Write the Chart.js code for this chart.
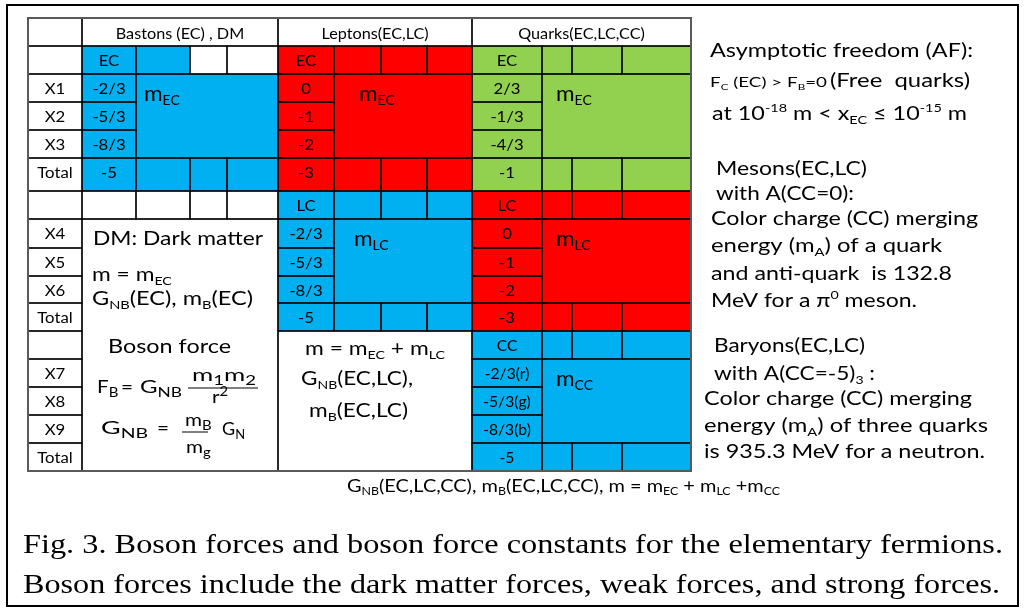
<!DOCTYPE html>
<html>
<head>
<meta charset="utf-8">
<script src="https://cdn.jsdelivr.net/npm/chart.js@4.4.0/dist/chart.umd.min.js"></script>
<style>
  html, body { margin: 0; padding: 0; background: #fff; }
  #wrap { width: 1025px; height: 611px; }
</style>
</head>
<body>
<div id="wrap"><canvas id="fig" width="1025" height="611"></canvas></div>
<script>
// table content
const sectionNames = ["Bastons (EC) , DM", "Leptons(EC,LC)", "Quarks(EC,LC,CC)"];
const rowLabels = ["", "", "X1", "X2", "X3", "Total", "", "X4", "X5", "X6", "Total", "", "X7", "X8", "X9", "Total"];
const bastonEC = ["-2/3", "-5/3", "-8/3", "-5"];
const leptonEC = ["0", "-1", "-2", "-3"];
const quarkEC = ["2/3", "-1/3", "-4/3", "-1"];
const leptonLC = ["-2/3", "-5/3", "-8/3", "-5"];
const quarkLC = ["0", "-1", "-2", "-3"];
const quarkCC = ["-2/3(r)", "-5/3(g)", "-8/3(b)", "-5"];

// notes ( _{..} = subscript, ^{..} = superscript )
const darkMatterNotes = ["DM: Dark matter", "m = m_{EC}", "G_{NB}(EC), m_{B}(EC)", "Boson force"];
const forceLaw = ["F_{B}", "=", "G_{NB}", "m_{1}m_{2}", "r^{2}"];
const constLaw = ["G_{NB}", "=", "m_{B}", "m_{g}", "G_{N}"];
const leptonNotes = ["m = m_{EC} + m_{LC}", "G_{NB}(EC,LC),", "m_{B}(EC,LC)"];
const sideNotes = [
  "Asymptotic freedom (AF):", "F_{C} (EC) > F_{B}=0", "(Free  quarks)", "at 10^{-18} m < x_{EC} ≤ 10^{-15} m",
  "Mesons(EC,LC)", "with A(CC=0):", "Color charge (CC) merging", "energy (m_{A}) of a quark",
  "and anti-quark  is 132.8", "MeV for a π^{0} meson.",
  "Baryons(EC,LC)", "with A(CC=-5)_{3} :", "Color charge (CC) merging", "energy (m_{A}) of three quarks",
  "is 935.3 MeV for a neutron."
];
const quarkNote = "G_{NB}(EC,LC,CC), m_{B}(EC,LC,CC), m = m_{EC} + m_{LC} +m_{CC}";
const caption = [
  "Fig. 3. Boson forces and boson force constants for the elementary fermions.",
  "Boson forces include the dark matter forces, weak forces, and strong forces."
];

// layout
const SANS = "Lato, 'Open Sans', sans-serif";
const SERIF = "'Liberation Serif', 'Times New Roman', serif";
const BLUE = "#00B0F0", RED = "#FF0000", GREEN = "#92D050";
const colEdges = [28, 82, 136, 190, 227, 278, 334, 381, 427, 472, 542, 572, 622, 691];
const rowEdges = [18, 46, 74, 102, 130, 158, 191, 219, 248, 276, 303, 331, 359, 387, 415, 443, 471];
const sectionCols = [[1, 5], [5, 9], [9, 13]];

const blocks = [
  { sec: 0, row: 1, head: "EC", vals: bastonEC, mass: "m_{EC}", fill: BLUE, headFill: [1, 1, 0, 0], dx: 8 },
  { sec: 1, row: 1, head: "EC", vals: leptonEC, mass: "m_{EC}", fill: RED, dx: 25 },
  { sec: 2, row: 1, head: "EC", vals: quarkEC, mass: "m_{EC}", fill: GREEN, dx: 14 },
  { sec: 1, row: 6, head: "LC", vals: leptonLC, mass: "m_{LC}", fill: BLUE, dx: 20 },
  { sec: 2, row: 6, head: "LC", vals: quarkLC, mass: "m_{LC}", fill: RED, dx: 14 },
  { sec: 2, row: 11, head: "CC", vals: quarkCC, mass: "m_{CC}", fill: BLUE, dx: 14, size: 14.5 }
];

const leftPos = [[93, 245, 170], [92, 281, 0], [92, 305, 161], [108, 353, 123]];
// [x, baseline, width]
const forcePos = [[97, 393, 0], [121, 393, 0], [140, 393, 42], [192, 381, 64], [212, 403, 0]];
const constPos = [[101, 434, 47], [157, 434, 0], [185, 426, 0], [186, 453, 0], [222, 435, 23]];
const leptonPos = [[305, 355, 140], [301, 385, 112], [309, 417, 99]];
const sidePos = [
  [710, 57, 263, 19.5], [710, 87, 117, 13.5], [830, 87, 140, 19.5], [712, 120, 255, 19.5],
  [716, 175, 151, 19.5], [716, 200, 138, 19.5], [711, 225, 267, 19.5], [711, 252, 231, 19.5],
  [711, 280, 241, 19.5], [711, 307, 206, 19.5],
  [714, 352, 151, 19.5], [714, 380, 161, 19.5], [704, 405, 268, 19.5], [704, 432, 284, 19.5],
  [704, 458, 281, 19.5]
];

function parseRich(str) {
  const out = [];
  const re = /([_^])\{([^}]*)\}/g;
  let last = 0, m;
  while ((m = re.exec(str))) {
    if (m.index > last) out.push({ t: str.slice(last, m.index), k: 0 });
    out.push({ t: m[2], k: m[1] === "_" ? 1 : -1 });
    last = re.lastIndex;
  }
  if (last < str.length) out.push({ t: str.slice(last), k: 0 });
  return out;
}

// draws rich text at data coords; o.w squeezes/stretches to a target width
function drawRich(chart, str, x, y, o) {
  const ctx = chart.ctx, xs = chart.scales.x, ys = chart.scales.y;
  const fam = o.family || SANS;
  const sub = o.sub || 0.62;
  const segs = parseRich(str);
  let nat = 0;
  segs.forEach(s => {
    ctx.font = (s.k ? o.size * sub : o.size) + "px " + fam;
    nat += ctx.measureText(s.t).width;
  });
  const px = xs.getPixelForValue(x), py = ys.getPixelForValue(y);
  const sx = o.w ? (xs.getPixelForValue(x + o.w) - px) / nat : (o.sx || 1);
  const left = o.align === "center" ? px - nat * sx / 2 : px;
  ctx.save();
  ctx.translate(left, py);
  ctx.scale(sx, 1);
  ctx.fillStyle = "#000";
  ctx.textAlign = "left";
  ctx.textBaseline = "alphabetic";
  let cx = 0;
  segs.forEach(s => {
    ctx.font = (s.k ? o.size * sub : o.size) + "px " + fam;
    const dy = s.k === 1 ? o.size * 0.2 : s.k === -1 ? -o.size * 0.4 : 0;
    ctx.fillText(s.t, cx, dy);
    cx += ctx.measureText(s.t).width;
  });
  ctx.restore();
}

function buildCells() {
  const cells = [];
  const add = (c0, c1, r0, r1, fill, text, size) => cells.push({ c0, c1, r0, r1, fill, text, size });
  rowLabels.forEach((lab, r) => add(0, 1, r, r + 1, "#fff", lab));
  sectionNames.forEach((name, s) => add(sectionCols[s][0], sectionCols[s][1], 0, 1, "#fff", name, 15));
  blocks.forEach(b => {
    const c = sectionCols[b.sec][0];
    for (let k = 0; k < 4; k++) {
      const f = b.headFill && !b.headFill[k] ? "#fff" : b.fill;
      add(c + k, c + k + 1, b.row, b.row + 1, f, k === 0 ? b.head : "", b.size);
      add(c + k, c + k + 1, b.row + 4, b.row + 5, b.fill, k === 0 ? b.vals[3] : "", b.size);
    }
    for (let i = 0; i < 3; i++) add(c, c + 1, b.row + 1 + i, b.row + 2 + i, b.fill, b.vals[i], b.size);
    add(c + 1, c + 4, b.row + 1, b.row + 4, b.fill, "");
  });
  for (let k = 1; k < 5; k++) add(k, k + 1, 6, 7, "#fff", "");
  add(1, 5, 7, 16, "#fff", "");
  add(5, 9, 11, 16, "#fff", "");
  return cells;
}

const tablePlugin = {
  id: "tablePlugin",
  afterDraw(chart) {
    const ctx = chart.ctx, xs = chart.scales.x, ys = chart.scales.y;
    const X = v => xs.getPixelForValue(v), Y = v => ys.getPixelForValue(v);
    const cells = buildCells();
    cells.forEach(c => {
      ctx.fillStyle = c.fill;
      ctx.fillRect(X(colEdges[c.c0]), Y(rowEdges[c.r0]), X(colEdges[c.c1]) - X(colEdges[c.c0]), Y(rowEdges[c.r1]) - Y(rowEdges[c.r0]));
    });
    ctx.strokeStyle = "#000";
    ctx.lineWidth = 1.2;
    cells.forEach(c => {
      ctx.strokeRect(X(colEdges[c.c0]), Y(rowEdges[c.r0]), X(colEdges[c.c1]) - X(colEdges[c.c0]), Y(rowEdges[c.r1]) - Y(rowEdges[c.r0]));
    });
    ctx.strokeStyle = "#5a5a5a";
    ctx.lineWidth = 2;
    ctx.strokeRect(X(colEdges[0]), Y(rowEdges[0]), X(colEdges[13]) - X(colEdges[0]), Y(rowEdges[16]) - Y(rowEdges[0]));
    // figure frame
    ctx.strokeStyle = "#000";
    ctx.strokeRect(X(7), Y(5), X(1018) - X(7), Y(606) - Y(5));

    cells.forEach(c => {
      if (!c.text) return;
      const cx = (colEdges[c.c0] + colEdges[c.c1]) / 2;
      const base = c.r0 === 0 ? 39 : rowEdges[c.r0] + 20;
      drawRich(chart, c.text, cx, base, { size: c.size || 15.5, align: "center", sx: 1.08 });
    });
    blocks.forEach(b => {
      const c = sectionCols[b.sec][0];
      drawRich(chart, b.mass, colEdges[c + 1] + b.dx, rowEdges[b.row + 1] + 27, { size: 21.5, sx: 1.05 });
    });

    darkMatterNotes.forEach((t, i) => drawRich(chart, t, leftPos[i][0], leftPos[i][1], { size: 19, w: leftPos[i][2], sx: 1.2 }));
    // F_B = G_NB m1m2 / r^2  and  G_NB = m_B / m_g G_N
    const f = { size: 18, sub: 0.72, sx: 1.15 };
    forceLaw.forEach((t, i) => drawRich(chart, t, forcePos[i][0], forcePos[i][1], { ...f, w: forcePos[i][2] }));
    constLaw.forEach((t, i) => drawRich(chart, t, constPos[i][0], constPos[i][1], { ...f, w: constPos[i][2] }));
    ctx.strokeStyle = "#000";
    ctx.lineWidth = 1;
    ctx.beginPath();
    ctx.moveTo(X(188), Y(388)); ctx.lineTo(X(258), Y(388));
    ctx.moveTo(X(182), Y(432)); ctx.lineTo(X(208), Y(432));
    ctx.stroke();

    leptonNotes.forEach((t, i) => drawRich(chart, t, leptonPos[i][0], leptonPos[i][1], { size: 18.5, w: leptonPos[i][2] }));
    sideNotes.forEach((t, i) => drawRich(chart, t, sidePos[i][0], sidePos[i][1], { size: sidePos[i][3], w: sidePos[i][2] }));
    drawRich(chart, quarkNote, 347, 492, { size: 17, w: 433 });
    drawRich(chart, caption[0], 23, 553, { size: 28, w: 980, family: SERIF });
    drawRich(chart, caption[1], 23, 593, { size: 28, w: 977, family: SERIF });
  }
};

new Chart(document.getElementById("fig"), {
  type: "scatter",
  data: { datasets: [] },
  options: {
    responsive: false,
    animation: false,
    layout: { padding: 0 },
    scales: {
      x: { type: "linear", min: 0, max: 1025, display: false },
      y: { type: "linear", min: 0, max: 611, reverse: true, display: false }
    },
    plugins: { legend: { display: false }, tooltip: { enabled: false } }
  },
  plugins: [tablePlugin]
});
</script>
</body>
</html>
